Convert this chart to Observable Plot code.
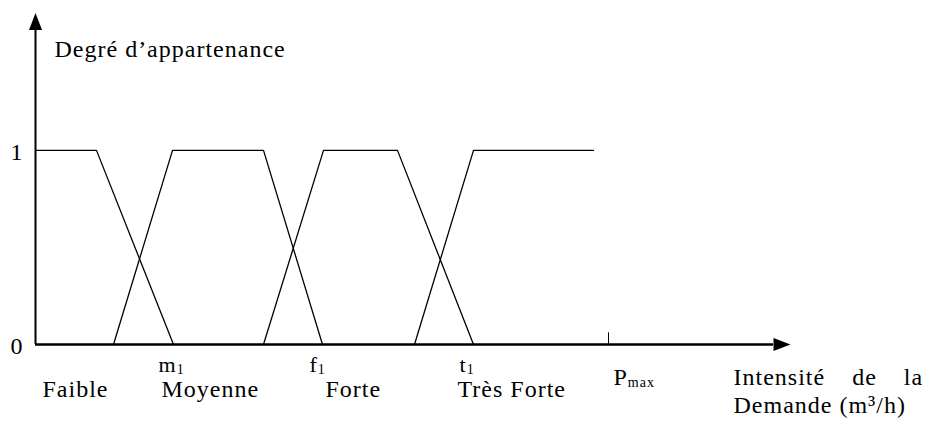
<!DOCTYPE html>
<html>
<head>
<meta charset="utf-8">
<script src="https://cdn.jsdelivr.net/npm/d3@7"></script>
<script src="https://cdn.jsdelivr.net/npm/@observablehq/plot@0.6"></script>
<style>
  html, body { margin: 0; padding: 0; background: white; }
</style>
</head>
<body>
<div id="chart"></div>
<script>
// ---- data ----
const sets = ["Faible", "Moyenne", "Forte", "Très Forte"];
const faibleX = [0, 61, 138];
const faibleY = [1, 1, 0];
const moyenneX = [78, 137, 228, 287];
const moyenneY = [0, 1, 1, 0];
const forteX = [228, 288, 362, 438];
const forteY = [0, 1, 1, 0];
const tresForteX = [379, 438, 558];
const tresForteY = [0, 1, 1];

const yTicks = [0, 1];
const xTickValues = [137, 288, 438];
const xTickLabels = ["m_1", "f_1", "t_1"];
const pmaxValue = 573;
const pmaxLabel = "P_max";
const labelAt = [7, 126, 290, 422];
const yTitle = "Degré d’appartenance";
const xTitle1 = "Intensité de la";
const xTitle2 = "Demande (m³/h)";
const axisEndX = 738;
const axisEndY = 1.62;

// ---- build table ----
const xsAll = [faibleX, moyenneX, forteX, tresForteX];
const ysAll = [faibleY, moyenneY, forteY, tresForteY];
const table = [];
sets.forEach((s, i) => xsAll[i].forEach((x, j) => table.push({set: s, x, y: ysAll[i][j]})));

const arrowHead = {
  draw(ctx) {
    ctx.moveTo(0, -17);
    ctx.lineTo(6.5, 0);
    ctx.lineTo(-6.5, 0);
    ctx.closePath();
  }
};

const chart = Plot.plot({
  width: 927,
  height: 421,
  marginLeft: 35,
  marginRight: 137,
  marginTop: 14,
  marginBottom: 77,
  x: {domain: [0, 755], axis: null},
  y: {domain: [0, 1.7], axis: null},
  style: {
    fontFamily: "'Liberation Serif', 'Times New Roman', serif",
    fontSize: "24px",
    letterSpacing: "1px",
    background: "white",
    color: "black"
  },
  marks: [
    Plot.line(table, {x: "x", y: "y", z: "set", stroke: "black", strokeWidth: 1.3}),
    Plot.ruleY([0], {x1: 0, x2: axisEndX, stroke: "black", strokeWidth: 2.5}),
    Plot.ruleX([0], {y1: 0, y2: axisEndY, stroke: "black", strokeWidth: 2}),
    Plot.ruleX([pmaxValue], {y1: 0, y2: 0.06, stroke: "black", strokeWidth: 1}),
    Plot.dot([{x: 0, y: axisEndY, rot: 0}, {x: axisEndX, y: 0, rot: 90}],
      {x: "x", y: "y", rotate: "rot", symbol: arrowHead, fill: "black", stroke: "none", r: 5}),
    // y ticks
    Plot.text(yTicks, {x: 0, y: d => d, text: d => String(d), textAnchor: "end", lineAnchor: "middle", dx: -12, dy: 2}),
    // x tick labels
    Plot.text(xTickValues, {x: d => d, y: 0, text: (d, i) => xTickLabels[i], fontSize: 22, textAnchor: "start", lineAnchor: "bottom", dx: -14, dy: 27}),
    Plot.text([pmaxValue], {x: d => d, y: 0, text: () => pmaxLabel, textAnchor: "start", lineAnchor: "bottom", dx: 5, dy: 40}),
    // category labels
    Plot.text(sets, {x: (d, i) => labelAt[i], y: 0, text: d => d, textAnchor: "start", lineAnchor: "bottom", dy: 52}),
    // axis titles
    Plot.text([yTitle], {x: 19, y: 1.479, text: d => d, textAnchor: "start", lineAnchor: "bottom"}),
    Plot.text([xTitle1], {x: 698, y: 0, text: d => d, textAnchor: "start", lineAnchor: "bottom", dy: 40}),
    Plot.text([xTitle2], {x: 698, y: 0, text: d => d, textAnchor: "start", lineAnchor: "bottom", dy: 68})
  ]
});

// subscripts and justification
chart.querySelectorAll("text").forEach(t => {
  const s = t.textContent;
  if (s.includes("_") && !t.querySelector("tspan")) {
    const [main, sub] = s.split("_");
    t.textContent = "";
    t.appendChild(document.createTextNode(main));
    const ts = document.createElementNS("http://www.w3.org/2000/svg", "tspan");
    ts.setAttribute("font-size", "14");
    ts.setAttribute("dy", "2");
    ts.textContent = sub;
    t.appendChild(ts);
  }
  if (s === xTitle1) t.setAttribute("word-spacing", "20");
});

document.getElementById("chart").appendChild(chart);
</script>
</body>
</html>
